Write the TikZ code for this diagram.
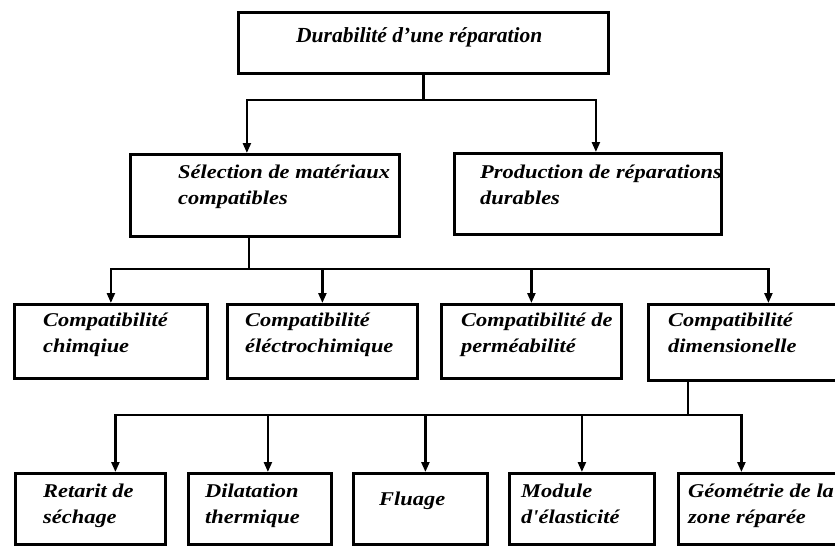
\documentclass[tikz,border=0pt]{standalone}
\usepackage{fontspec}
\setmainfont{Liberation Serif}
\newfontfamily\largefont[FakeStretch=1.15]{Liberation Serif}
\usetikzlibrary{arrows.meta}

\tikzset{
  bloc/.style={draw, line width=2.8pt, anchor=north west, inner sep=0pt},
  etiq/.style={anchor=base west, align=left, inner sep=0pt,
    font=\largefont\bfseries\itshape\fontsize{19.5}{25.5}\selectfont},
  lien/.style={line width=2.3pt},
  fleche/.style={line width=2.3pt, -{Triangle[length=10pt,width=8pt]}}
}

\begin{document}
\begin{tikzpicture}[x=1pt,y=-1pt]
\useasboundingbox (0,0) rectangle (835,546);

% les boites
\node[bloc, minimum width=370, minimum height=61] (dur) at (237,11) {};
\node[bloc, minimum width=269, minimum height=82] (sel) at (129,153) {};
\node[bloc, minimum width=267, minimum height=81] (prod) at (453,152) {};
\node[bloc, minimum width=193, minimum height=74] (chim) at (13,303) {};
\node[bloc, minimum width=190, minimum height=74] (elec) at (226,303) {};
\node[bloc, minimum width=180, minimum height=74] (perm) at (440,303) {};
\node[bloc, minimum width=240, minimum height=76] (dim) at (647,303) {};
\node[bloc, minimum width=150, minimum height=71] (ret) at (14,472) {};
\node[bloc, minimum width=143, minimum height=71] (dil) at (187,472) {};
\node[bloc, minimum width=134, minimum height=71] (flu) at (352,472) {};
\node[bloc, minimum width=145, minimum height=71] (mod) at (508,472) {};
\node[bloc, minimum width=200, minimum height=71] (geo) at (677,472) {};

% les textes (base = derniere ligne)
\node[etiq, font=\bfseries\itshape\fontsize{21.5}{24}\selectfont] (dur-t) at (296,42) {Durabilité d'une réparation};
\node[etiq] (sel-t) at (178,204) {Sélection de matériaux\\compatibles};
\node[etiq] (prod-t) at (480,204) {Production de réparations\\durables};
\node[etiq] (chim-t) at (43,352) {Compatibilité\\chimqiue};
\node[etiq] (elec-t) at (245,352) {Compatibilité\\éléctrochimique};
\node[etiq] (perm-t) at (461,352) {Compatibilité de\\perméabilité};
\node[etiq] (dim-t) at (668,352) {Compatibilité\\dimensionelle};
\node[etiq] (ret-t) at (43,523) {Retarit de\\séchage};
\node[etiq] (dil-t) at (205,523) {Dilatation\\thermique};
\node[etiq] (flu-t) at (379,505) {Fluage};
\node[etiq] (mod-t) at (521,523) {Module\\d'élasticité};
\node[etiq] (geo-t) at (688,523) {Géométrie de la\\zone réparée};

% niveau 1
\draw[lien] (dur.south) -- ++(0,25) coordinate (j1);
\draw[fleche] (j1) -| ([xshift=-18pt]sel.north);
\draw[fleche] (j1) -| ([xshift=8pt]prod.north);

% niveau 2
\draw[lien] ([xshift=-16pt]sel.south) -- ++(0,31) coordinate (j2);
\draw[fleche] (j2) -| (chim.north);
\draw[fleche] (j2) -| (elec.north);
\draw[fleche] (j2) -| (perm.north);
\draw[fleche] (j2) -| (dim.north);

% niveau 3
\draw[lien] ([xshift=41pt]dim.south west) -- ++(0,33) coordinate (j3);
\draw[fleche] (j3) -| ([xshift=25pt]ret.north);
\draw[fleche] (j3) -| ([xshift=8pt]dil.north);
\draw[fleche] (j3) -| ([xshift=5pt]flu.north);
\draw[fleche] (j3) -| (mod.north);
\draw[fleche] (j3) -| ([xshift=-37pt]geo.north);

\end{tikzpicture}
\end{document}
